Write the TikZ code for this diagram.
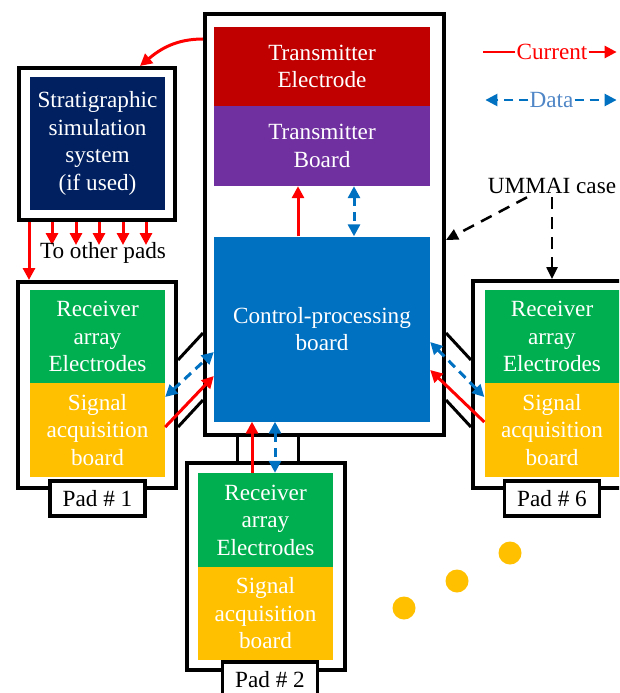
\documentclass[tikz,border=0pt]{standalone}
\usepackage{fontspec}
\setmainfont{Liberation Serif}
\usetikzlibrary{arrows.meta}
\definecolor{TxRed}{HTML}{C00000}
\definecolor{TxPurple}{HTML}{7030A0}
\definecolor{CtrlBlue}{HTML}{0070C0}
\definecolor{StratNavy}{HTML}{002060}
\definecolor{RxGreen}{HTML}{00B050}
\definecolor{SigYellow}{HTML}{FFC000}
\definecolor{CurrentRed}{HTML}{FF0000}
\definecolor{DataBlue}{HTML}{0070C0}
\definecolor{DataText}{HTML}{4F86C6}
\begin{document}
\begin{tikzpicture}[x=1pt,y=-1pt,line join=miter,font=\fontsize{23.2}{27.5}\selectfont,
  frame/.style={draw=black,line width=4pt,inner sep=0pt},
  block/.style={inner sep=0pt,text=white,align=center,minimum width=135pt},
  padlabel/.style={draw=black,fill=white,line width=3.5pt,minimum width=95pt,minimum height=35pt,inner sep=0pt},
  cur/.style={CurrentRed,line width=3pt,-{Triangle[width=12pt,length=12pt]}},
  dat/.style={DataBlue,line width=3pt,dash pattern=on 9pt off 6pt,{Triangle[width=12pt,length=12pt]}-{Triangle[width=12pt,length=12pt]}},
  dathead/.style={DataBlue,line width=2.5pt,dash pattern=on 9pt off 6pt,-{Triangle[width=12pt,length=12pt]}},
  cable/.style={line width=3pt},
  hint/.style={line width=2.5pt,dash pattern=on 12pt off 8pt,-{Triangle[width=11pt,length=12pt]}},
  dot/.style={circle,fill=SigYellow,minimum size=23pt,inner sep=0pt}]
  \clip (0,0) rectangle (619,693);
  % frames
  \node[frame,minimum width=239pt,minimum height=421pt] (case) at (324.5,224.5) {};
  \node[frame,minimum width=156pt,minimum height=152pt] (sframe) at (97,144) {};
  \node[frame,minimum width=158pt,minimum height=206pt] (pad1) at (97,385) {};
  \node[frame,minimum width=158pt,minimum height=207pt] (pad6) at (552,384.5) {};
  \node[frame,minimum width=158pt,minimum height=207pt] (pad2) at (266,566.5) {};
  % main case blocks
  \node[block,fill=TxRed,minimum width=216pt,minimum height=79pt] (txe) at (322,66.5) {Transmitter\\Electrode};
  \node[block,fill=TxPurple,minimum width=216pt,minimum height=80pt] (txb) at (322,146) {Transmitter\\Board};
  \node[block,fill=CtrlBlue,minimum width=216pt,minimum height=185pt] (ctrl) at (322,329) {Control-processing\\board};
  \node[block,fill=StratNavy,minimum height=133pt] (strat) at (97.5,143.5) {Stratigraphic\\simulation\\system\\(if used)};
  % pads
  \node[block,fill=RxGreen,minimum height=93pt] (rx1) at (97.5,336.5) {Receiver\\array\\Electrodes};
  \node[block,fill=SigYellow,minimum height=94pt] (sig1) at (97.5,430) {Signal\\acquisition\\board};
  \node[padlabel] (lab1) at (97.5,498.5) {Pad \# 1};
  \node[block,fill=RxGreen,minimum height=93pt] (rx6) at (552,336.5) {Receiver\\array\\Electrodes};
  \node[block,fill=SigYellow,minimum height=94pt] (sig6) at (552,430) {Signal\\acquisition\\board};
  \node[padlabel] (lab6) at (552,498.5) {Pad \# 6};
  \node[block,fill=RxGreen,minimum height=94pt] (rx2) at (265.5,520) {Receiver\\array\\Electrodes};
  \node[block,fill=SigYellow,minimum height=93pt] (sig2) at (265.5,613.5) {Signal\\acquisition\\board};
  \node[padlabel] (lab2) at (270,679.5) {Pad \# 2};
  % cables between pads and case
  \draw[cable] ([yshift=25]pad1.east) -- ([yshift=-108.5]case.west);
  \draw[cable] ([yshift=-42]pad1.east) -- ([yshift=-175.5]case.west);
  \draw[cable] ([yshift=-108.5]case.east) -- ([yshift=24.5]pad6.west);
  \draw[cable] ([yshift=-175.5]case.east) -- ([yshift=-42.5]pad6.west);
  \draw[cable] ([xshift=-87.5]case.south) -- ([xshift=-29]pad2.north);
  \draw[cable] ([xshift=-26.5]case.south) -- ([xshift=32]pad2.north);
  % current and data
  \draw[cur] ([xshift=-24]ctrl.north) -- ([xshift=-24]txb.south);
  \draw[dat] ([xshift=32]txb.south) -- ([xshift=32]ctrl.north);
  \draw[cur] ([yshift=3]sig1.east) -- ([yshift=-47]ctrl.west);
  \draw[dat] ([yshift=33]sig1.east) -- ([yshift=-23]ctrl.west);
  \draw[cur] ([yshift=8]sig6.west) -- ([yshift=-41]ctrl.east);
  \draw[dat] ([yshift=-13]ctrl.east) -- ([yshift=33]sig6.west);
  \draw[cur] ([xshift=-13.5]rx2.north) -- ([xshift=-70]ctrl.south);
  \draw[dat] ([xshift=-47]ctrl.south) -- ([xshift=9.5]rx2.north);
  % stratigraphic system outputs
  \draw[cur] ([yshift=-27]case.north west) to[out=180,in=40] ([xshift=43]sframe.north);
  \foreach \dx in {-45,-21,2,26,49}{\draw[cur] ([xshift=\dx]sframe.south) -- ++(0,23);}
  \draw[cur] ([xshift=-68]sframe.south) -- ([xshift=-68]pad1.north);
  \node (other) at (103,253) {To other pads};
  % legend
  \node[text=CurrentRed,inner sep=1pt] (curtxt) at (552,52) {Current};
  \draw[CurrentRed,line width=2.5pt] (curtxt.west) -- ++(-32,0);
  \draw[cur,line width=2.5pt] (curtxt.east) -- ++(28,0);
  \node[text=DataText,inner sep=1pt] (dattxt) at (551.5,100) {Data};
  \draw[dathead] (dattxt.west) -- ++(-43,0);
  \draw[dathead] (dattxt.east) -- ++(42,0);
  % case pointer
  \node (ummai) at (552,186) {UMMAI case};
  \draw[hint] ([xshift=-25]ummai.south) -- ([yshift=-15.5]case.east);
  \draw[hint] (ummai.south) -- (pad6.north);
  % further pads
  \foreach \x/\y [count=\i] in {404/608,457/581,510/553}{\node[dot] (dot\i) at (\x,\y) {};}
\end{tikzpicture}
\end{document}
